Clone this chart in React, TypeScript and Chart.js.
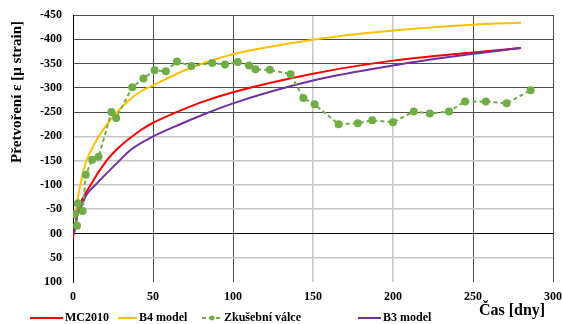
import React, { useEffect, useRef } from "react";
import { Chart, registerables } from "chart.js";

Chart.register(...registerables);

const xTicks = [0, 50, 100, 150, 200, 250, 300];
const yTicks = [-450, -400, -350, -300, -250, -200, -150, -100, -50, 0, 50, 100];

const mcDays = [0, 0.5, 3.5, 11, 21, 27, 42, 49, 67, 80, 100, 150, 200, 250, 280];
const mcStrain = [10, 0, -50, -100, -150, -172, -212, -226, -253, -270, -291, -329, -356, -373, -382];

const b4Days = [1.5, 2.5, 4.6, 7.7, 14, 20, 26.5, 34.8, 43, 50, 67, 80, 100, 150, 200, 250, 280];
const b4Strain = [-30, -61, -100, -143, -188, -219, -246, -274, -294, -305, -332, -349, -369, -399, -418, -430, -434];

const testDays = [1, 2.5, 3, 6, 8, 12, 16, 24, 27, 37, 44, 51, 58, 65, 74, 87, 95, 103, 110, 114, 123, 136, 144, 151, 166, 178, 187, 200, 213, 223, 235, 245, 258, 271, 286];
const testStrain = [-40, -16, -62, -46, -121, -152, -158, -250, -238, -301, -319, -336, -334, -354, -345, -351, -348, -353, -346, -338, -337, -328, -279, -266, -225, -227, -233, -229, -251, -247, -251, -272, -272, -268, -295];

const b3Days = [0.5, 1.5, 2.5, 4.6, 8.5, 14, 29, 35.6, 49, 67, 80, 100, 150, 200, 250, 280];
const b3Strain = [2, -15, -35, -52, -80, -100, -150, -171, -198, -225, -243, -268, -315, -346, -370, -382];

const seriesNames = ["MC2010", "B4 model", "Zkušební válce", "B3 model"];
const xTitle = "Čas [dny]";
const yTitle = "Přetvoření ε [μ strain]";

const toPts = (xs: number[], ys: number[]) => xs.map((x, i) => ({ x, y: ys[i] }));

const FONT = "'Liberation Serif', 'Times New Roman', serif";

const decorPlugin = {
  id: "decor",
  afterDraw(chart: any) {
    const ctx = chart.ctx;
    const ca = chart.chartArea;
    ctx.save();
    ctx.fillStyle = "#000";
    ctx.font = `bold 15px ${FONT}`;
    ctx.translate(17, 92);
    ctx.rotate(-Math.PI / 2);
    ctx.textAlign = "center";
    ctx.textBaseline = "middle";
    ctx.fillText(yTitle, 0, 0);
    ctx.restore();

    ctx.save();
    ctx.fillStyle = "#000";
    ctx.font = `bold 16px ${FONT}`;
    ctx.textAlign = "center";
    ctx.textBaseline = "middle";
    ctx.fillText(xTitle, ca.right - 41, 311);
    ctx.restore();

    const items = [
      { ds: 0, x0: 30, x1: 63 },
      { ds: 1, x0: 118, x1: 137 },
      { ds: 2, x0: 202, x1: 222 },
      { ds: 3, x0: 358, x1: 381 },
    ];
    const ly = 318;
    ctx.save();
    ctx.font = `bold 12px ${FONT}`;
    ctx.textBaseline = "middle";
    ctx.textAlign = "left";
    items.forEach((it) => {
      const ds = chart.data.datasets[it.ds];
      ctx.strokeStyle = ds.borderColor;
      ctx.lineWidth = ds.borderWidth;
      ctx.setLineDash(ds.borderDash || []);
      ctx.beginPath();
      ctx.moveTo(it.x0, ly);
      ctx.lineTo(it.x1, ly);
      ctx.stroke();
      ctx.setLineDash([]);
      if (ds.pointRadius > 0) {
        ctx.fillStyle = ds.pointBackgroundColor;
        ctx.beginPath();
        ctx.arc((it.x0 + it.x1) / 2, ly, 2.5, 0, Math.PI * 2);
        ctx.fill();
      }
      ctx.fillStyle = "#000";
      ctx.fillText(ds.label, it.x1 + 2, ly);
    });
    ctx.restore();
  },
};

export default function App() {
  const ref = useRef<HTMLCanvasElement>(null);
  useEffect(() => {
    if (!ref.current) return;
    const dark = "#4d4d4d";
    const light = "#c6c6c6";
    const xGrid = (v: number) => (v === 0 ? "#000" : v === 150 || v === 200 ? light : dark);
    const yGrid = (v: number) => (v === 0 ? "#000" : v <= -250 ? dark : v === 100 ? "rgba(0,0,0,0)" : light);
    const chart = new Chart(ref.current, {
      type: "line",
      data: {
        datasets: [
          {
            label: seriesNames[0],
            data: toPts(mcDays, mcStrain),
            borderColor: "#ff0000",
            backgroundColor: "#ff0000",
            borderWidth: 2,
            pointRadius: 0,
            cubicInterpolationMode: "monotone",
            order: 2,
          },
          {
            label: seriesNames[1],
            data: toPts(b4Days, b4Strain),
            borderColor: "#ffc000",
            backgroundColor: "#ffc000",
            borderWidth: 2,
            pointRadius: 0,
            cubicInterpolationMode: "monotone",
            order: 3,
          },
          {
            label: seriesNames[2],
            data: toPts(testDays, testStrain),
            borderColor: "#70ad47",
            backgroundColor: "#70ad47",
            pointBackgroundColor: "#70ad47",
            pointBorderColor: "#70ad47",
            borderWidth: 2,
            borderDash: [4, 3],
            pointRadius: 3,
            tension: 0,
            order: 0,
          },
          {
            label: seriesNames[3],
            data: toPts(b3Days, b3Strain),
            borderColor: "#7030a0",
            backgroundColor: "#7030a0",
            borderWidth: 2,
            pointRadius: 0,
            cubicInterpolationMode: "monotone",
            order: 1,
          },
        ] as any,
      },
      options: {
        animation: false,
        responsive: false,
        layout: { padding: { top: 15, right: 10, left: 0, bottom: 0 } },
        plugins: { legend: { display: false }, tooltip: { enabled: false } },
        scales: {
          x: {
            type: "linear",
            min: 0,
            max: 300,
            afterBuildTicks: (s: any) => {
              s.ticks = xTicks.map((v) => ({ value: v }));
            },
            afterFit: (s: any) => {
              s.height = 42;
              s.paddingLeft = 0;
              s.paddingRight = 0;
            },
            ticks: {
              color: "#000",
              padding: 8,
              maxRotation: 0,
              font: { family: FONT, size: 12, weight: "bold" },
            },
            grid: {
              drawTicks: false,
              color: (c: any) => xGrid(c.tick.value),
              lineWidth: (c: any) => (c.tick.value === 150 || c.tick.value === 200 ? 1.5 : 1),
            },
            border: { display: false },
          },
          y: {
            type: "linear",
            min: -450,
            max: 100,
            reverse: true,
            afterBuildTicks: (s: any) => {
              s.ticks = yTicks.map((v) => ({ value: v }));
            },
            afterFit: (s: any) => {
              s.width = 73;
              s.paddingTop = 0;
              s.paddingBottom = 0;
            },
            ticks: {
              color: "#000",
              padding: 11,
              font: { family: FONT, size: 12, weight: "bold" },
              callback: (v: any) => (Number(v) === 0 ? "00" : String(v)),
            },
            grid: {
              drawTicks: false,
              color: (c: any) => yGrid(c.tick.value),
              lineWidth: (c: any) => {
                const v = c.tick.value;
                return v > -250 && v !== 0 ? 1.5 : 1;
              },
            },
            border: { display: true, color: "#000", width: 1 },
          },
        },
      } as any,
      plugins: [decorPlugin],
    });
    return () => chart.destroy();
  }, []);
  return (
    <div style={{ position: "absolute", left: 0, top: 0, width: 563, height: 324, background: "#fff" }}>
      <canvas ref={ref} width={563} height={324} style={{ display: "block" }} />
    </div>
  );
}
